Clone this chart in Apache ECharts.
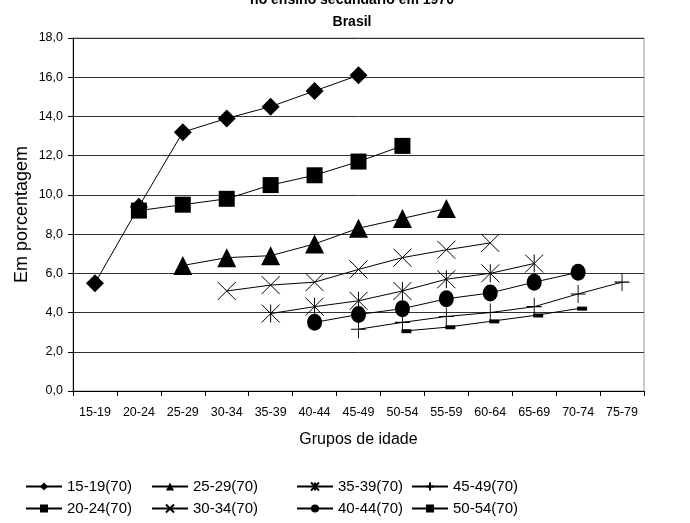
<!DOCTYPE html>
<html><head><meta charset="utf-8">
<script src="https://cdn.jsdelivr.net/npm/echarts@6/dist/echarts.min.js"></script>
<style>html,body{margin:0;padding:0;background:#fff}#c{width:690px;height:523px}</style>
</head><body><div id="c"></div>
<script>
// ---- data ----
const categories = ['15-19','20-24','25-29','30-34','35-39','40-44','45-49','50-54','55-59','60-64','65-69','70-74','75-79'];
const seriesNames = ['15-19(70)','20-24(70)','25-29(70)','30-34(70)','35-39(70)','40-44(70)','45-49(70)','50-54(70)'];
const s15_19 = [5.5, 9.4, 13.2, 13.9, 14.5, 15.3, 16.1, null, null, null, null, null, null];
const s20_24 = [null, 9.2, 9.5, 9.8, 10.5, 11.0, 11.7, 12.5, null, null, null, null, null];
const s25_29 = [null, null, 6.4, 6.8, 6.9, 7.5, 8.3, 8.8, 9.3, null, null, null, null];
const s30_34 = [null, null, null, 5.1, 5.4, 5.55, 6.2, 6.8, 7.2, 7.55, null, null, null];
const s35_39 = [null, null, null, null, 3.95, 4.3, 4.6, 5.1, 5.7, 6.0, 6.5, null, null];
const s40_44 = [null, null, null, null, null, 3.5, 3.9, 4.2, 4.7, 5.0, 5.55, 6.05, null];
const s45_49 = [null, null, null, null, null, null, 3.15, 3.5, 3.8, 4.0, 4.3, 4.95, 5.55];
const s50_54 = [null, null, null, null, null, null, null, 3.05, 3.25, 3.55, 3.85, 4.2, null];
const yMin = 0, yMax = 18, yStep = 2;

// ---- styles ----
const FONT = '"Liberation Sans", Arial, sans-serif';
const PATH_X = 'path://M0 0L10 10M10 0L0 10';
const PATH_AST = 'path://M0 0L10 10M10 0L0 10M5 0L5 10';
const PATH_PLUS = 'path://M0 5L10 5M5 0L5 10';
const marks = [
  {symbol:'diamond', size:18, stroke:false},
  {symbol:'rect', size:16, stroke:false},
  {symbol:'triangle', size:19, stroke:false},
  {symbol:PATH_X, size:18, stroke:true},
  {symbol:PATH_AST, size:18, stroke:true},
  {symbol:'circle', size:[15,17], stroke:false},
  {symbol:PATH_PLUS, size:[15,18], stroke:true},
  {symbol:'rect', size:[10,4], stroke:false, offset:[4,0]}
];
const dataList = [s15_19, s20_24, s25_29, s30_34, s35_39, s40_44, s45_49, s50_54];

const series = dataList.map((d, i) => ({
  name: seriesNames[i],
  type: 'line',
  data: d,
  symbol: marks[i].symbol,
  symbolSize: marks[i].size,
  symbolOffset: marks[i].offset || [0,0],
  showSymbol: true,
  connectNulls: false,
  lineStyle: {color:'#000', width:1},
  itemStyle: marks[i].stroke ? {color:'#000', borderColor:'#000', borderWidth:1} : {color:'#000', borderWidth:0},
  emphasis: {disabled:true},
  z: 3
}));

const legendCols = [[0,1],[2,3],[4,5],[6,7]];
const legendLeft = [25, 151, 296, 411];
const legends = legendCols.map((c, k) => ({
  orient:'vertical', left: legendLeft[k], top: 479, height: 43,
  padding: 0,
  itemWidth: 36, itemHeight: 10, itemGap: 7,
  selectedMode: false,
  textStyle: {fontSize:15, color:'#000', fontFamily: FONT},
  data: c.map(i => seriesNames[i])
}));

const chart = echarts.init(document.getElementById('c'));
chart.setOption({
  animation: false,
  textStyle: {fontFamily: FONT},
  graphic: [
    {type:'text', x:352, y:0, style:{text:'no ensino secundário em 1970', font:'bold 14px ' + FONT, fill:'#000', align:'center', verticalAlign:'middle', textAlign:'center', textVerticalAlign:'middle'}},
    {type:'text', x:352, y:22, style:{text:'Brasil', font:'bold 14px ' + FONT, fill:'#000', align:'center', verticalAlign:'middle', textAlign:'center', textVerticalAlign:'middle'}}
  ],
  legend: legends,
  grid: {left:73, right:46, top:38, bottom:132, show:true, borderColor:'#999', borderWidth:1},
  xAxis: {
    type:'category', data: categories, boundaryGap:true,
    axisLine:{lineStyle:{color:'#000', width:1}},
    axisTick:{show:true, length:5, lineStyle:{color:'#000'}},
    axisLabel:{color:'#000', fontSize:12.5, margin:15, interval:0},
    name:'Grupos de idade', nameLocation:'middle', nameGap:41, nameMoveOverlap:false,
    nameTextStyle:{fontSize:16, color:'#000'}
  },
  yAxis: {
    type:'value', min:yMin, max:yMax, interval:yStep,
    axisLine:{show:true, lineStyle:{color:'#000', width:1}},
    axisTick:{show:true, length:5, lineStyle:{color:'#000'}},
    axisLabel:{color:'#000', fontSize:12.5, margin:10, formatter: v => v.toFixed(1).replace('.', ',')},
    splitLine:{lineStyle:{color:'#333', width:1}},
    name:'Em porcentagem', nameLocation:'middle', nameGap:42, nameMoveOverlap:false,
    nameTextStyle:{fontSize:18, color:'#000'}
  },
  series: series
});
</script>
</body></html>
